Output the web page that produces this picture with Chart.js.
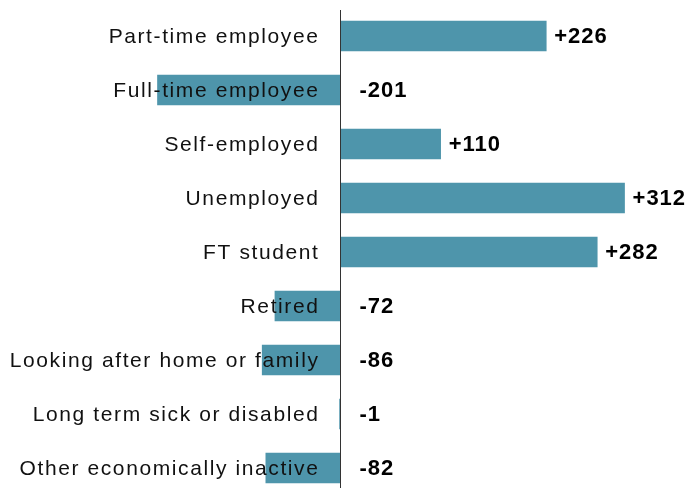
<!DOCTYPE html>
<html>
<head>
<meta charset="utf-8">
<script src="https://cdn.jsdelivr.net/npm/chart.js@4"></script>
<style>
  html, body { margin: 0; padding: 0; background: #fff; overflow: hidden; }
  #wrap { position: relative; width: 691px; height: 496px; }
</style>
</head>
<body>
<div id="wrap"><canvas id="chart"></canvas></div>
<script>
(function(){
    "use strict";

    // Categories and change values
    const categories = [
        'Part-time employee',
        'Full-time employee',
        'Self-employed',
        'Unemployed',
        'FT student',
        'Retired',
        'Looking after home or family',
        'Long term sick or disabled',
        'Other economically inactive'
    ];
    const changes = [226, -201, 110, 312, 282, -72, -86, -1, -82];
    const valueLabels = ['+226', '-201', '+110', '+312', '+282', '-72', '-86', '-1', '-82'];

    const barColor = 'rgb(78, 149, 171)';
    const labelFont = '21px "Liberation Sans", Arial, sans-serif';
    const valueFont = 'bold 22px "Liberation Sans", Arial, sans-serif';

    // Draws the zero line, the category names and the value labels
    const annotate = {
        id: 'annotate',
        afterDatasetsDraw(chart) {
            const ctx = chart.ctx;
            const xs = chart.scales.x;
            const ys = chart.scales.y;
            const zero = Math.round(xs.getPixelForValue(0)) + 0.5;

            ctx.save();
            ctx.strokeStyle = '#333';
            ctx.lineWidth = 1;
            ctx.beginPath();
            ctx.moveTo(zero, 10);
            ctx.lineTo(zero, 488);
            ctx.stroke();

            ctx.textBaseline = 'middle';
            ctx.fillStyle = '#111';
            ctx.font = labelFont;
            ctx.textAlign = 'right';
            ctx.letterSpacing = '1.6px';
            categories.forEach((name, i) => {
                ctx.fillText(name, zero - 21, ys.getPixelForValue(i) + 1);
            });

            ctx.font = valueFont;
            ctx.textAlign = 'left';
            ctx.letterSpacing = '1px';
            ctx.fillStyle = '#000';
            changes.forEach((v, i) => {
                const x = v >= 0 ? xs.getPixelForValue(v) + 8 : zero + 19;
                ctx.fillText(valueLabels[i], x, ys.getPixelForValue(i) + 1);
            });
            ctx.restore();
        }
    };

    function createChart() {
        const ctx = document.getElementById('chart').getContext('2d');
        new Chart(ctx, {
            type: 'bar',
            data: {
                labels: categories,
                datasets: [{
                    data: changes,
                    backgroundColor: barColor,
                    borderWidth: 0,
                    barThickness: 30
                }]
            },
            options: {
                indexAxis: 'y',
                responsive: true,
                maintainAspectRatio: false,
                animation: false,
                layout: { padding: { top: 9, bottom: 1, left: 0, right: 0 } },
                scales: {
                    x: { display: false, min: -374, max: 385 },
                    y: { display: false }
                },
                plugins: {
                    legend: { display: false },
                    tooltip: { enabled: false }
                }
            },
            plugins: [annotate]
        });
    }

    createChart();
})();
</script>
</body>
</html>
